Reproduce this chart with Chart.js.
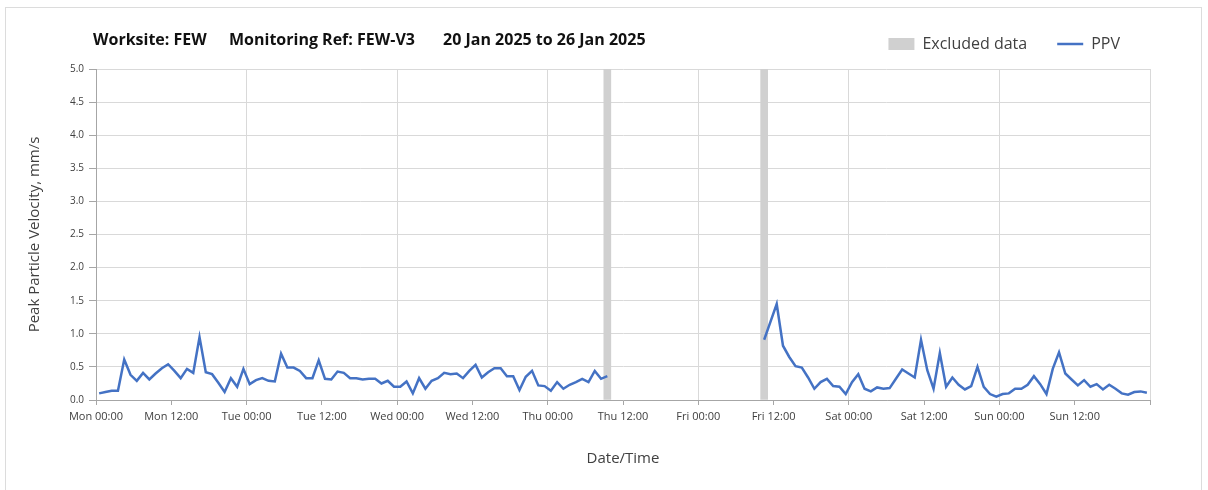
<!DOCTYPE html>
<html>
<head>
<meta charset="utf-8">
<script src="https://cdn.jsdelivr.net/npm/chart.js@4.4.1/dist/chart.umd.min.js"></script>
<style>
body { margin: 0; background: #fff; }
#wrap { position: relative; width: 1208px; height: 490px; overflow: hidden; }
#frame { position: absolute; left: 5px; top: 7px; width: 1195px; height: 500px; border: 1px solid #dcdcdc; }
.ttl { position: absolute; top: 28px; font: bold 16px 'Open Sans', sans-serif; color: #111; white-space: nowrap; }
canvas { position: absolute; left: 0; top: 0; }
</style>
</head>
<body>
<div id="wrap">
  <div id="frame"></div>
  <canvas id="ppvChart" width="1208" height="490"></canvas>
  <div class="ttl" style="left:93px">Worksite: FEW</div>
  <div class="ttl" style="left:229px">Monitoring Ref: FEW-V3</div>
  <div class="ttl" style="left:443px">20 Jan 2025 to 26 Jan 2025</div>
</div>
<script>
// hours are counted from Mon 00:00
const xTickLabels = ['Mon 00:00','Mon 12:00','Tue 00:00','Tue 12:00','Wed 00:00','Wed 12:00','Thu 00:00',
                     'Thu 12:00','Fri 00:00','Fri 12:00','Sat 00:00','Sat 12:00','Sun 00:00','Sun 12:00'];
const yTicks = [0,0.5,1,1.5,2,2.5,3,3.5,4,4.5,5];

// first run of hourly readings, starts Mon 00:30
const ppvStartA = 0.5;
const ppvA = [0.10,0.12,0.14,0.14,0.61,0.38,0.29,0.41,0.31,0.40,
              0.48,0.54,0.44,0.33,0.47,0.41,0.95,0.42,0.39,0.26,
              0.12,0.33,0.20,0.47,0.24,0.30,0.33,0.29,0.28,0.70,
              0.49,0.49,0.44,0.33,0.33,0.60,0.32,0.31,0.43,0.41,
              0.33,0.33,0.31,0.32,0.32,0.25,0.29,0.20,0.20,0.28,
              0.10,0.33,0.17,0.29,0.33,0.41,0.39,0.40,0.33,0.44,
              0.53,0.34,0.42,0.48,0.48,0.36,0.36,0.15,0.35,0.44,
              0.22,0.21,0.14,0.27,0.17,0.23,0.27,0.32,0.27,0.44,
              0.32,0.36];

// second run, starts Fri 10:30
const ppvStartB = 106.5;
const ppvB = [0.91,1.18,1.45,0.82,0.65,0.51,0.49,0.34,0.17,0.27,
              0.32,0.21,0.20,0.09,0.27,0.39,0.17,0.13,0.19,0.17,
              0.18,0.32,0.46,0.40,0.34,0.91,0.45,0.17,0.71,0.20,
              0.34,0.23,0.16,0.21,0.50,0.20,0.09,0.05,0.09,0.10,
              0.17,0.17,0.23,0.36,0.24,0.09,0.47,0.72,0.40,0.31,
              0.22,0.30,0.20,0.24,0.16,0.23,0.17,0.10,0.08,0.12,
              0.13,0.11];

const excludedHours = [81.5, 106.5];
const yMax = 5;

function toPoints(start, values) {
    return values.map((v, i) => ({x: start + i, y: v}));
}

let ppvPoints = toPoints(ppvStartA, ppvA)
    .concat([{x: 94, y: null}])
    .concat(toPoints(ppvStartB, ppvB));

// pin legend height so the plot top lands where the original has it
const legendBox = {
    id: 'legendBox',
    afterInit(chart) {
        const fit = chart.legend.fit;
        chart.legend.fit = function() {
            fit.call(this);
            this.height = 63;
        };
    }
};

const txt = '#404040';
const gridCol = '#d9d9d9';
const axisCol = '#a6a6a6';

new Chart(document.getElementById('ppvChart'), {
    type: 'line',
    data: {
        datasets: [{
            type: 'bar',
            label: 'Excluded data',
            data: excludedHours.map(h => ({x: h, y: [0, yMax]})),
            backgroundColor: '#d0d0d0',
            borderWidth: 0,
            barThickness: 7,
            grouped: false,
            order: 1,
            pointStyle: 'rect'
        }, {
            type: 'line',
            label: 'PPV',
            data: ppvPoints,
            borderColor: '#4472C4',
            backgroundColor: '#4472C4',
            borderWidth: 2.5,
            pointRadius: 0,
            tension: 0,
            spanGaps: false,
            order: 0,
            pointStyle: 'line'
        }]
    },
    options: {
        responsive: false,
        animation: false,
        layout: { padding: { top: 6, right: 58, left: 0, bottom: 0 } },
        plugins: {
            legend: {
                position: 'top',
                align: 'end',
                labels: {
                    usePointStyle: true,
                    pointStyleWidth: 26,
                    boxHeight: 12,
                    padding: 30,
                    color: txt,
                    font: { family: "'Open Sans', sans-serif", size: 16 },
                    sort: (a, b) => a.datasetIndex - b.datasetIndex
                }
            },
            tooltip: { enabled: false }
        },
        scales: {
            x: {
                type: 'linear',
                min: 0,
                max: 168,
                offset: false,
                ticks: {
                    stepSize: 12,
                    autoSkip: false,
                    maxRotation: 0,
                    padding: 5,
                    color: txt,
                    font: { family: "'Open Sans', sans-serif", size: 11 },
                    callback: v => xTickLabels[v / 12] || ''
                },
                grid: {
                    offset: false,
                    color: c => (c.tick && c.tick.value % 24 === 0) ? gridCol : 'rgba(0,0,0,0)',
                    tickColor: axisCol,
                    tickLength: 5
                },
                border: { color: axisCol },
                title: {
                    display: true,
                    text: 'Date/Time',
                    color: txt,
                    font: { family: "'Open Sans', sans-serif", size: 15 },
                    padding: { top: 4, bottom: 22 }
                },
                afterFit: s => { s.height = 90; }
            },
            y: {
                min: 0,
                max: yMax,
                afterBuildTicks: s => { s.ticks = yTicks.map(v => ({value: v})); },
                ticks: {
                    padding: 5,
                    color: txt,
                    font: { family: "'Open Sans', sans-serif", size: 10 },
                    callback: v => v.toFixed(1)
                },
                grid: { color: gridCol, tickColor: axisCol, tickLength: 7 },
                border: { color: axisCol },
                title: {
                    display: true,
                    text: 'Peak Particle Velocity, mm/s',
                    color: txt,
                    font: { family: "'Open Sans', sans-serif", size: 15 },
                    padding: { top: 26, bottom: 0 }
                },
                afterFit: s => { s.width = 96; }
            }
        }
    },
    plugins: [legendBox]
});
</script>
</body>
</html>
